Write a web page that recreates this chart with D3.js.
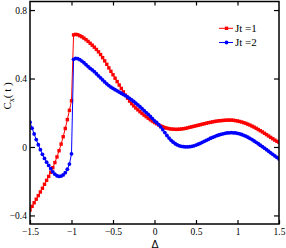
<!DOCTYPE html>
<html><head><meta charset="utf-8">
<script src="https://cdn.jsdelivr.net/npm/d3@7/dist/d3.min.js"></script>
<style>body{margin:0;background:#fff}svg{display:block}</style>
</head><body><svg id="c" width="286" height="248"></svg>
<script>
const delta = [-1.5,-1.475,-1.45,-1.425,-1.4,-1.375,-1.35,-1.325,-1.3,-1.275,-1.25,-1.225,-1.2,-1.175,-1.15,-1.125,-1.1,-1.075,-1.05,-1.025,-1.0,
-0.975,-0.95,-0.925,-0.9,-0.875,-0.85,-0.825,-0.8,-0.775,-0.75,-0.725,-0.7,-0.675,-0.65,-0.625,-0.6,-0.575,-0.55,-0.525,-0.5,
-0.475,-0.45,-0.425,-0.4,-0.375,-0.35,-0.325,-0.3,-0.275,-0.25,-0.225,-0.2,-0.175,-0.15,-0.125,-0.1,-0.075,-0.05,-0.025,0,
0.025,0.05,0.075,0.1,0.125,0.15,0.175,0.2,0.225,0.25,0.275,0.3,0.325,0.35,0.375,0.4,0.425,0.45,0.475,0.5,
0.525,0.55,0.575,0.6,0.625,0.65,0.675,0.7,0.725,0.75,0.775,0.8,0.825,0.85,0.875,0.9,0.925,0.95,0.975,1.0,
1.025,1.05,1.075,1.1,1.125,1.15,1.175,1.2,1.225,1.25,1.275,1.3,1.325,1.35,1.375,1.4,1.425,1.45,1.475,1.5];

const jt1 = [-0.368,-0.347,-0.326,-0.305,-0.284,-0.263,-0.241,-0.218,-0.195,-0.172,-0.148,-0.121,-0.091,-0.058,-0.022,0.017,0.060,0.108,0.160,0.214,0.270,
0.655,0.658,0.656,0.650,0.644,0.636,0.627,0.617,0.606,0.595,0.583,0.570,0.556,0.540,0.522,0.503,0.483,0.462,0.442,0.422,
0.402,0.382,0.362,0.342,0.322,0.303,0.285,0.268,0.253,0.240,0.228,0.217,0.206,0.196,0.186,0.177,0.168,0.159,0.151,0.143,
0.136,0.129,0.123,0.118,0.113,0.110,0.107,0.105,0.104,0.103,0.103,0.104,0.105,0.107,0.109,0.112,0.115,0.118,0.121,0.124,
0.127,0.130,0.133,0.136,0.139,0.142,0.144,0.147,0.149,0.151,0.153,0.154,0.155,0.156,0.157,0.157,0.157,0.156,0.154,0.152,
0.149,0.146,0.142,0.138,0.133,0.128,0.122,0.116,0.109,0.102,0.095,0.088,0.080,0.072,0.064,0.056,0.048,0.040,0.033,0.027];

const jt2 = [0.145,0.110,0.076,0.043,0.013,-0.016,-0.043,-0.067,-0.089,-0.108,-0.127,-0.145,-0.159,-0.168,-0.172,-0.170,-0.163,-0.150,-0.130,-0.100,-0.040,
0.512,0.518,0.516,0.510,0.502,0.492,0.481,0.470,0.459,0.450,0.440,0.428,0.416,0.404,0.392,0.380,0.369,0.359,0.350,0.342,
0.335,0.328,0.321,0.314,0.307,0.300,0.292,0.284,0.275,0.266,0.256,0.246,0.235,0.224,0.212,0.201,0.190,0.178,0.166,0.153,
0.143,0.131,0.117,0.101,0.084,0.067,0.052,0.039,0.028,0.019,0.012,0.007,0.004,0.002,0.001,0.001,0.002,0.004,0.007,0.011,
0.016,0.021,0.027,0.033,0.039,0.045,0.051,0.056,0.061,0.066,0.070,0.074,0.077,0.080,0.082,0.083,0.084,0.083,0.082,0.080,
0.077,0.073,0.068,0.063,0.057,0.050,0.043,0.035,0.027,0.019,0.010,0.002,-0.007,-0.016,-0.025,-0.034,-0.043,-0.052,-0.061,-0.070];

const xTicks = [-1.5,-1,-0.5,0,0.5,1,1.5];
const yTicks = [-0.4,0,0.4,0.8];
const seriesNames = ["Jt =1","Jt =2"];

const svg = d3.select("#c");
const L=30, R=279, T=1.5, B=224;
const x = d3.scaleLinear().domain([-1.5,1.5]).range([L,R]);
const y = d3.scaleLinear().domain([-0.45,0.85]).range([B,T]);
const fmt = d3.format("");
const serif = "'Liberation Serif','Times New Roman',serif";

svg.append("clipPath").attr("id","clip").append("rect").attr("x",L).attr("y",T).attr("width",R-L).attr("height",B-T);

const series = [
  {name:seriesNames[0], vals:jt1, color:"#ff0000", shape:"square"},
  {name:seriesNames[1], vals:jt2, color:"#0000ff", shape:"circle"}
];
const line = d3.line().x((d,i)=>x(delta[i])).y(d=>y(d));
const g = svg.append("g").attr("clip-path","url(#clip)");
series.forEach(s=>{
  g.append("path").attr("d",line(s.vals)).attr("fill","none").attr("stroke",s.color).attr("stroke-width",1);
  if(s.shape==="square"){
    g.selectAll(null).data(s.vals).enter().append("rect")
      .attr("x",(d,i)=>x(delta[i])-1.7).attr("y",d=>y(d)-1.7).attr("width",3.4).attr("height",3.4).attr("fill",s.color);
  } else {
    g.selectAll(null).data(s.vals).enter().append("circle")
      .attr("cx",(d,i)=>x(delta[i])).attr("cy",d=>y(d)).attr("r",1.9).attr("fill",s.color);
  }
});

function styleAxis(sel){
  sel.select(".domain").remove();
  sel.selectAll(".tick line").attr("stroke","#000").attr("stroke-width",1.2);
  sel.selectAll("text").attr("font-family",serif).attr("font-size","9.5px").attr("fill","#000");
}
svg.append("g").attr("transform",`translate(0,${B})`)
  .call(d3.axisBottom(x).tickValues(xTicks).tickSize(-4).tickPadding(4.5).tickFormat(fmt)).call(styleAxis);
svg.append("g").attr("transform",`translate(0,${T})`)
  .call(d3.axisTop(x).tickValues(xTicks.slice(1,-1)).tickSize(-4).tickFormat("")).call(styleAxis);
svg.append("g").attr("transform",`translate(${L},0)`)
  .call(d3.axisLeft(y).tickValues(yTicks).tickSize(-5).tickPadding(3).tickFormat(fmt)).call(styleAxis);
svg.append("g").attr("transform",`translate(${R},0)`)
  .call(d3.axisRight(y).tickValues(yTicks).tickSize(-5).tickFormat("")).call(styleAxis);

svg.append("rect").attr("x",L).attr("y",T).attr("width",R-L).attr("height",B-T)
  .attr("fill","none").attr("stroke","#000").attr("stroke-width",1.5);

series.forEach((s,i)=>{
  const ly = 28.3 + i*14.2;
  svg.append("line").attr("x1",219).attr("x2",233).attr("y1",ly).attr("y2",ly).attr("stroke",s.color).attr("stroke-width",1);
  if(s.shape==="square") svg.append("rect").attr("x",224.8).attr("y",ly-1.7).attr("width",3.4).attr("height",3.4).attr("fill",s.color);
  else svg.append("circle").attr("cx",226.5).attr("cy",ly).attr("r",1.9).attr("fill",s.color);
  svg.append("text").attr("x",235).attr("y",ly+3.6).attr("font-family",serif).attr("font-size","11px").text(s.name);
});

const yl = svg.append("text").attr("transform","translate(11,96) rotate(-90)")
  .attr("text-anchor","middle").attr("font-family",serif).attr("font-size","11px");
yl.append("tspan").text("C");
yl.append("tspan").attr("font-size","8px").attr("dy","2.5").text("x");
yl.append("tspan").attr("dy","-2.5").text("( t )");
svg.append("text").attr("x",155).attr("y",247.5).attr("text-anchor","middle")
  .attr("font-family","'Liberation Sans',Arial,sans-serif").attr("font-size","10.5px").text("Δ");
</script></body></html>
